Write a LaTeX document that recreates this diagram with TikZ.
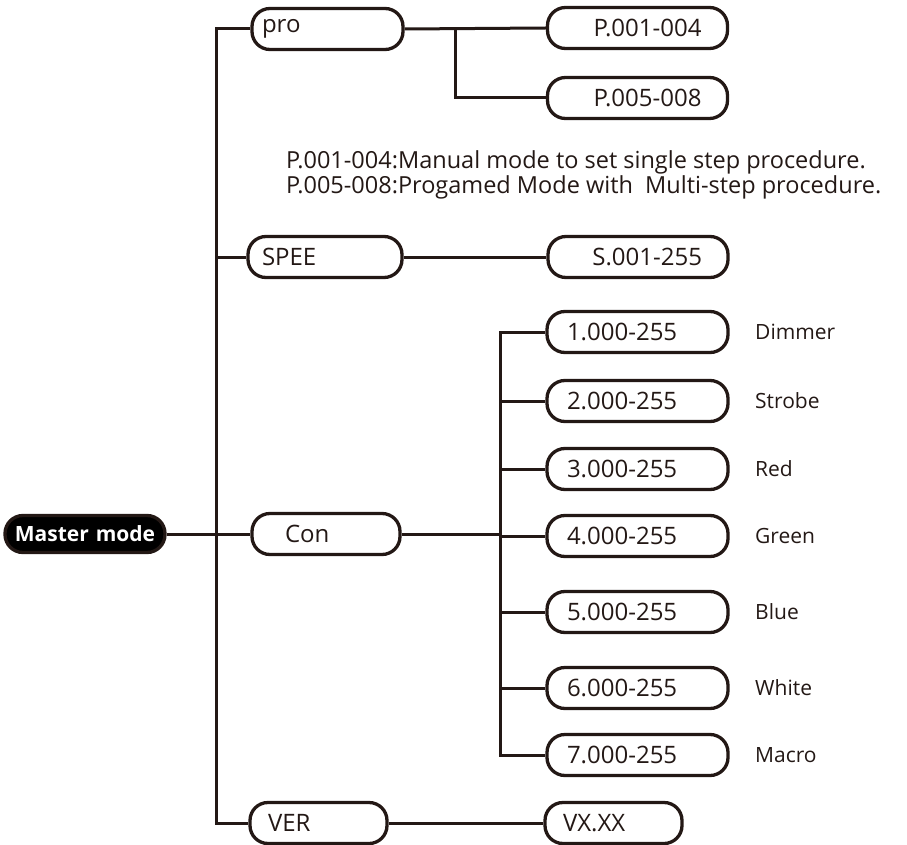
\documentclass[tikz,border=0pt]{standalone}
\usepackage{fontspec}
\setmainfont{Open Sans}
\definecolor{ink}{HTML}{231815}
\begin{document}
\begin{tikzpicture}[x=1pt,y=-1pt,
  box/.style={draw=ink, line width=3.3pt, rounded corners=18pt, minimum height=41pt, inner ysep=0pt, font=\fontsize{24}{28}\selectfont, text=ink},
  conn/.style={draw=ink, line width=3pt},
  lbl/.style={anchor=west, font=\fontsize{21}{24}\selectfont, text=ink, inner sep=0pt}]
\useasboundingbox (0,0) rectangle (907,845);
\coordinate (tr) at (216,0);
\coordinate (jn) at (455,0);
\coordinate (sub) at (500,0);
% nodes
\node[box, fill=black, text=white, minimum height=37pt, text width=150pt, inner xsep=5pt, align=center, font=\fontsize{21}{24}\selectfont\bfseries] (master) at (85,534) {Master mode};
\node[box, text width=131pt, inner xsep=10pt, align=left] (pro) at (327.5,29) {pro};
\node[box, text width=128pt, inner xsep=26pt, align=right] (p1) at (637.5,28) {P.001-004};
\node[box, text width=128pt, inner xsep=26pt, align=right] (p5) at (637.5,98) {P.005-008};
\node[box, text width=126pt, inner xsep=14pt, align=left] (spee) at (325,257) {SPEE};
\node[box, text width=128pt, inner xsep=26pt, align=right] (s1) at (638,257) {S.001-255};
\node[box, text width=82pt, inner xsep=33pt, align=left] (con) at (326,534) {Con};
\node[box, text width=141pt, inner xsep=20pt, align=left] (c1) at (637.5,332) {1.000-255};
\node[box, text width=141pt, inner xsep=20pt, align=left] (c2) at (637.5,401) {2.000-255};
\node[box, text width=141pt, inner xsep=20pt, align=left] (c3) at (637.5,469) {3.000-255};
\node[box, text width=141pt, inner xsep=20pt, align=left] (c4) at (637.5,536) {4.000-255};
\node[box, text width=141pt, inner xsep=20pt, align=left] (c5) at (637.5,612) {5.000-255};
\node[box, text width=141pt, inner xsep=20pt, align=left] (c6) at (637.5,688) {6.000-255};
\node[box, text width=141pt, inner xsep=20pt, align=left] (c7) at (637.5,755) {7.000-255};
\node[box, text width=101pt, inner xsep=18pt, align=left] (ver) at (318.5,823) {VER};
\node[box, text width=101pt, inner xsep=18pt, align=left] (vx) at (613.5,823) {VX.XX};
\node[lbl] (l1) at (755,332) {Dimmer};
\node[lbl] (l2) at (755,401) {Strobe};
\node[lbl] (l3) at (755,469) {Red};
\node[lbl] (l4) at (755,536) {Green};
\node[lbl] (l5) at (755,612) {Blue};
\node[lbl] (l6) at (755,688) {White};
\node[lbl] (l7) at (755,755) {Macro};
\node[anchor=west, align=left, inner sep=0pt, text=ink, font=\fontsize{23.5}{25}\selectfont] (note) at (286,175) {P.001-004:Manual mode to set single step procedure.\\P.005-008:Progamed Mode with\ \ Multi-step procedure.};
% connectors
\draw[conn] (pro.west) -- (pro.west -| tr) -- (ver.west -| tr) -- (ver.west);
\draw[conn] (spee.west) -- (spee.west -| tr);
\draw[conn] (master.east) -- (con.west);
\draw[conn] (pro.east) -- (p1.west);
\draw[conn] (pro.east -| jn) -- (p5.west -| jn) -- (p5.west);
\draw[conn] (spee.east) -- (s1.west);
\draw[conn] (con.east) -- (con.east -| sub);
\draw[conn] (c1.west) -- (c1.west -| sub) -- (c7.west -| sub) -- (c7.west);
\foreach \n in {c2,c3,c4,c5,c6} \draw[conn] (\n.west) -- (\n.west -| sub);
\draw[conn] (ver.east) -- (vx.west);
\end{tikzpicture}
\end{document}
